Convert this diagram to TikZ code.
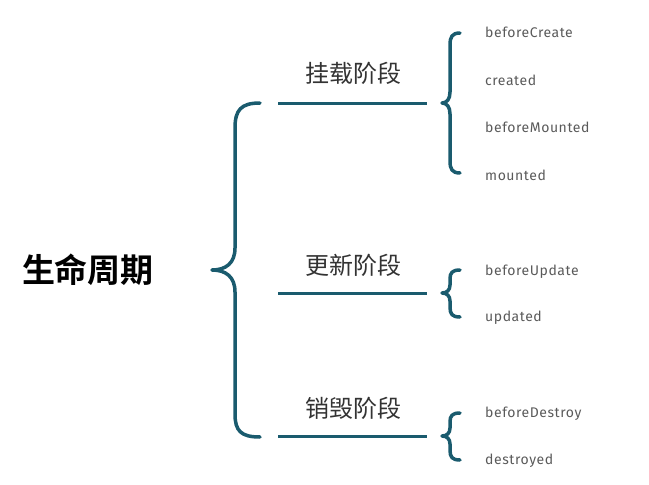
\documentclass[tikz,border=0pt]{standalone}
\usepackage{fontspec}
\newfontfamily\cjk{Noto Sans CJK SC}
\newfontfamily\cjkb{Noto Sans CJK SC Bold}
\newfontfamily\hand[LetterSpace=4]{Fira Sans}
\definecolor{teal}{HTML}{1A5B6E}
\definecolor{txtgray}{HTML}{5A5A5A}
\tikzset{
  brace/.style={draw=teal,line width=3.5pt,line cap=round,line join=round},
  bar/.style={draw=teal,line width=3pt},
  phase/.style={font=\cjk\fontsize{24}{27}\selectfont,text=black!80,inner sep=0pt},
  hook/.style={font=\hand\fontsize{14}{16}\selectfont,text=txtgray,anchor=west,inner sep=0pt},
}
\begin{document}
\begin{tikzpicture}[x=1pt,y=-1pt]
\useasboundingbox (0,0) rectangle (649,485);
% title
\node[font=\cjkb\fontsize{33}{37}\selectfont,inner sep=0pt] (title) at (88,270) {生命周期};
% big brace
\path[brace] (260,103) .. controls (241,103) and (235,110) .. (235,128) -- (235,248)
  .. controls (235,263) and (226,270) .. (212,270)
  .. controls (226,270) and (235,277) .. (235,292) -- (235,414)
  .. controls (235,431) and (241,437) .. (260,437);
% bars
\coordinate (a1) at (278,103); \coordinate (a2) at (427,103);
\coordinate (b1) at (278,293); \coordinate (b2) at (427,293);
\coordinate (c1) at (278,436); \coordinate (c2) at (427,436);
\draw[bar] (a1) -- (a2);
\draw[bar] (b1) -- (b2);
\draw[bar] (c1) -- (c2);
% phase labels
\node[phase] (p1) at (353,73) {挂载阶段};
\node[phase] (p2) at (353,265) {更新阶段};
\node[phase] (p3) at (353,408) {销毁阶段};
% small brace 1
\path[brace] (460,33) .. controls (452,33) and (450,37) .. (450,45) -- (450,92)
  .. controls (450,99) and (447,103) .. (442,103)
  .. controls (447,103) and (450,107) .. (450,114) -- (450,161)
  .. controls (450,169) and (452,173) .. (460,173);
% small brace 2
\path[brace] (460,270) .. controls (452,270) and (450,273) .. (450,279) -- (450,285)
  .. controls (450,290) and (447,293) .. (442,293)
  .. controls (447,293) and (450,296) .. (450,301) -- (450,307)
  .. controls (450,314) and (452,317) .. (460,317);
% small brace 3
\path[brace] (460,413) .. controls (452,413) and (450,416) .. (450,422) -- (450,428)
  .. controls (450,433) and (447,436) .. (442,436)
  .. controls (447,436) and (450,439) .. (450,444) -- (450,450)
  .. controls (450,457) and (452,460) .. (460,460);
% hooks
\node[hook] (h1) at (485,32) {beforeCreate};
\node[hook] (h2) at (485,80) {created};
\node[hook] (h3) at (485,127) {beforeMounted};
\node[hook] (h4) at (485,175) {mounted};
\node[hook] (h5) at (485,272) {beforeUpdate};
\node[hook] (h6) at (485,318) {updated};
\node[hook] (h7) at (485,414) {beforeDestroy};
\node[hook] (h8) at (485,461) {destroyed};
\end{tikzpicture}
\end{document}
